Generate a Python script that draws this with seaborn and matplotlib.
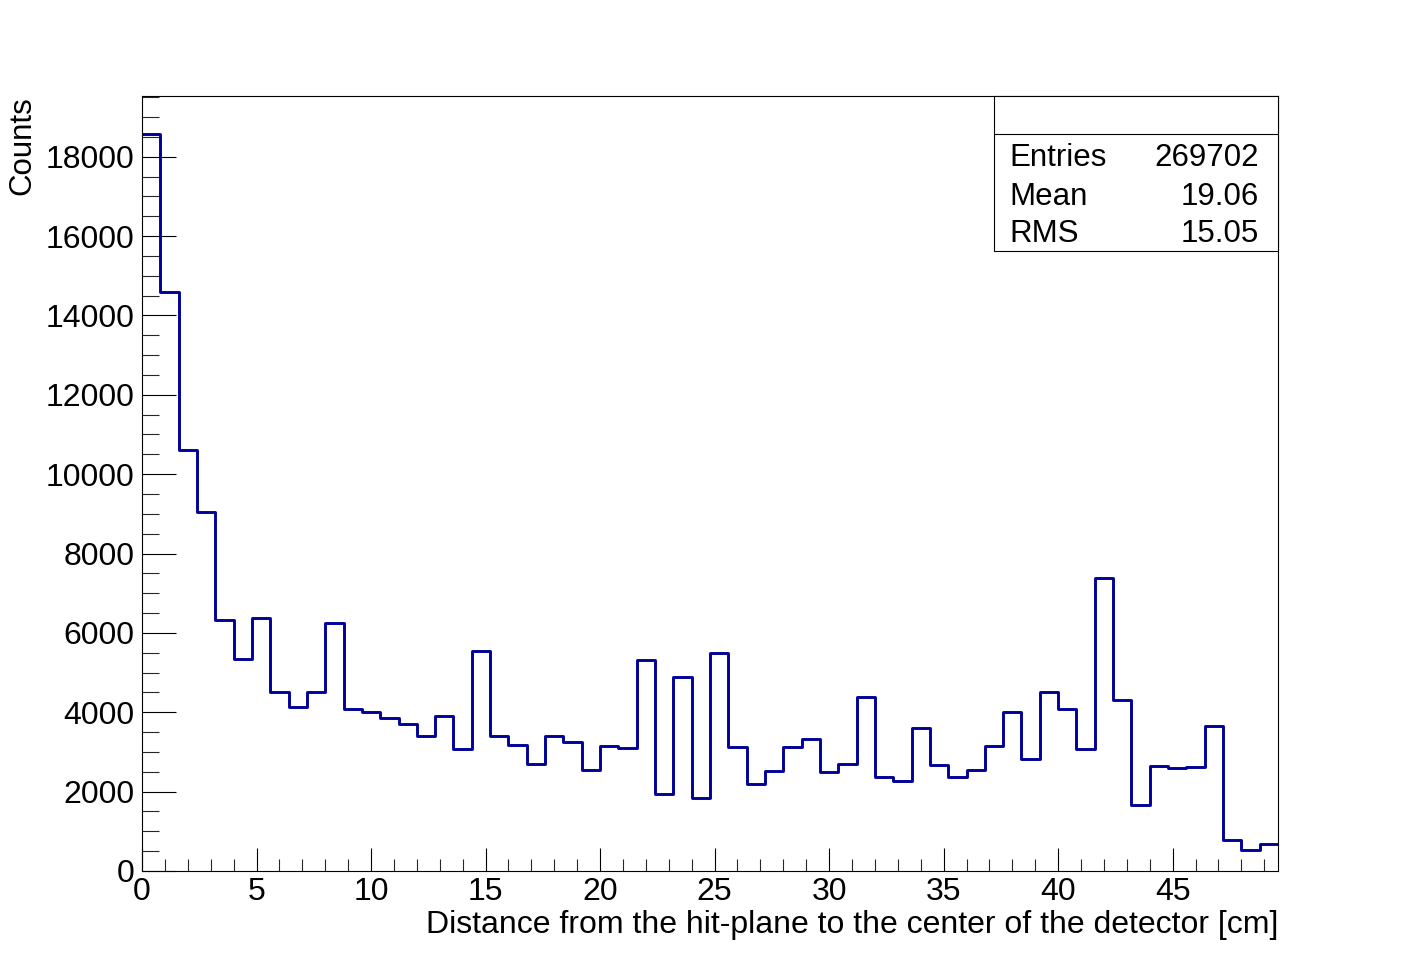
import numpy as np
import pandas as pd
import matplotlib
matplotlib.use("Agg")
import matplotlib.pyplot as plt
from matplotlib.ticker import MultipleLocator
from matplotlib.patches import Rectangle
import seaborn as sns

# ---- data ----
x_min = 0.0
x_max = 49.6
n_bins = 62
counts = [18580, 14600, 10620, 9050, 6320, 5340, 6370, 4505, 4130, 4505,
          6245, 4070, 4005, 3850, 3710, 3400, 3900, 3065, 5535, 3400,
          3165, 2690, 3400, 3245, 2545, 3150, 3090, 5310, 1930, 4880,
          1830, 5490, 3115, 2185, 2520, 3115, 3320, 2495, 2695, 4385,
          2360, 2270, 3595, 2660, 2370, 2545, 3150, 3995, 2830, 4500,
          4075, 3065, 7385, 4300, 1655, 2640, 2590, 2610, 3655, 770,
          520, 670]
stat_names = ["Entries", "Mean", "RMS"]
stat_values = ["269702", "19.06", "15.05"]
x_label = "Distance from the hit-plane to the center of the detector [cm]"
y_label = "Counts"

edges = np.linspace(x_min, x_max, n_bins + 1)
centers = 0.5 * (edges[:-1] + edges[1:])
df = pd.DataFrame({"x": centers, "w": counts})

sns.set_theme(style="ticks")
plt.rcParams["font.family"] = ["Liberation Sans", "DejaVu Sans"]

fig = plt.figure(figsize=(14.21, 9.67), dpi=100)
fig.patch.set_facecolor("white")
ax = fig.add_axes([142 / 1421, 96 / 967, 1136 / 1421, 775 / 967])
ax.set_facecolor("white")

sns.histplot(data=df, x="x", weights="w", bins=n_bins, binrange=(x_min, x_max),
             element="step", fill=False, color="#000099", linewidth=2.1, ax=ax)

ax.set_xlim(x_min, x_max)
ax.set_ylim(0, 19530)

for s in ax.spines.values():
    s.set_color("black")
    s.set_linewidth(0.8)

ax.xaxis.set_major_locator(MultipleLocator(5))
ax.xaxis.set_minor_locator(MultipleLocator(1))
ax.yaxis.set_major_locator(MultipleLocator(2000))
ax.yaxis.set_minor_locator(MultipleLocator(500))
ax.set_xticks(np.arange(0, 46, 5))

ax.tick_params(axis="x", which="major", direction="in", length=16.5, width=0.8,
               labelsize=23, pad=4.5, top=False, colors="black")
ax.tick_params(axis="x", which="minor", direction="in", length=8.5, width=0.8,
               top=False)
ax.tick_params(axis="y", which="major", direction="in", length=24.5, width=0.8,
               labelsize=23, pad=5.4, right=False, colors="black")
ax.tick_params(axis="y", which="minor", direction="in", length=12.3, width=0.8,
               right=False)

ax.set_xlabel(x_label, fontsize=23, loc="right", color="black")
ax.set_ylabel(y_label, fontsize=22.5, loc="top", color="black")
ax.xaxis.set_label_coords(1.0, -0.050)
ax.yaxis.set_label_coords(-0.0918, 1.0)
ax.grid(False)

# stats box
box_x0, box_y0 = (994 - 142) / 1136, (871 - 251) / 775
ax.add_patch(Rectangle((box_x0, box_y0), 1 - box_x0, 1 - box_y0,
                       transform=ax.transAxes, facecolor="white",
                       edgecolor="black", linewidth=0.8, zorder=5,
                       clip_on=False))
ax.plot([box_x0, 1.0], [(871 - 134) / 775] * 2, transform=ax.transAxes,
        color="black", linewidth=0.8, zorder=6, clip_on=False)
baselines = [(871 - 166) / 775, (871 - 205) / 775, (871 - 242) / 775]
for name, val, yb in zip(stat_names, stat_values, baselines):
    ax.text((1009 - 142) / 1136, yb, name, transform=ax.transAxes,
            fontsize=22.5, ha="left", va="baseline", zorder=7, color="black")
    ax.text((1259 - 142) / 1136, yb, val, transform=ax.transAxes,
            fontsize=22.5, ha="right", va="baseline", zorder=7, color="black")

fig.savefig("out.png", dpi=100, facecolor="white")
